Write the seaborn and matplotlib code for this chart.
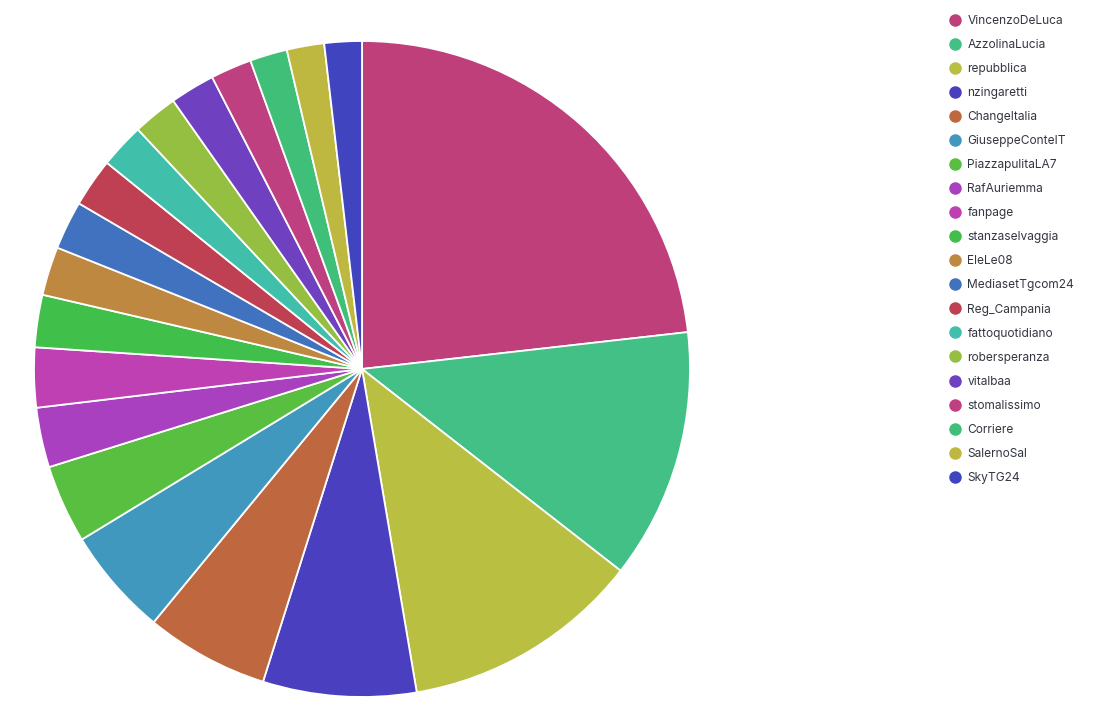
import matplotlib
matplotlib.use('Agg')
import matplotlib.pyplot as plt
import seaborn as sns
from matplotlib.lines import Line2D

# Accounts and their counts (sorted descending)
accounts = ['VincenzoDeLuca', 'AzzolinaLucia', 'repubblica', 'nzingaretti', 'ChangeItalia',
            'GiuseppeConteIT', 'PiazzapulitaLA7', 'RafAuriemma', 'fanpage', 'stanzaselvaggia',
            'EleLe08', 'MediasetTgcom24', 'Reg_Campania', 'fattoquotidiano', 'robersperanza',
            'vitalbaa', 'stomalissimo', 'Corriere', 'SalernoSal', 'SkyTG24']
counts = [126, 67, 64, 41, 33, 29, 21, 16, 16, 14, 13, 13, 13, 12, 12, 12, 11, 10, 10, 10]
colors = ['#BE3F7A', '#42C086', '#B9BF40', '#4A40BF', '#BF6840', '#4098BF', '#58BF40',
          '#A840BF', '#BF40B2', '#40BF4A', '#BF8840', '#4072BF', '#BF4052', '#40BFAA',
          '#95BF40', '#6F40BF', '#BF4080', '#40BF78', '#BFB840', '#4045BF']

sns.set_theme(style='white')
plt.rcParams['font.family'] = ['Inter', 'DejaVu Sans']

W, H = 1101, 718
fig = plt.figure(figsize=(W / 100, H / 100), dpi=100)

# pie centred at (362, 369) px with radius 328 px
cx, cy, r = 362, 369, 328
ax = fig.add_axes([(cx - r) / W, (H - cy - r) / H, 2 * r / W, 2 * r / H])
ax.pie(counts, colors=colors, startangle=90, counterclock=False,
       wedgeprops=dict(edgecolor='white', linewidth=1.3))
ax.set_xlim(-1, 1)
ax.set_ylim(-1, 1)
ax.set_aspect('equal')
ax.axis('off')

handles = [Line2D([0], [0], marker='o', linestyle='', markersize=8,
                  markerfacecolor=c, markeredgecolor=c) for c in colors]
leg = fig.legend(handles, accounts, loc='upper left', bbox_to_anchor=(943 / W, 1 - 10 / H),
                 frameon=False, fontsize=8.6, labelspacing=1.01, handletextpad=0.45,
                 handlelength=1.2, borderaxespad=0)
for t in leg.get_texts():
    t.set_color('#343741')

fig.savefig('out.png', dpi=100)
